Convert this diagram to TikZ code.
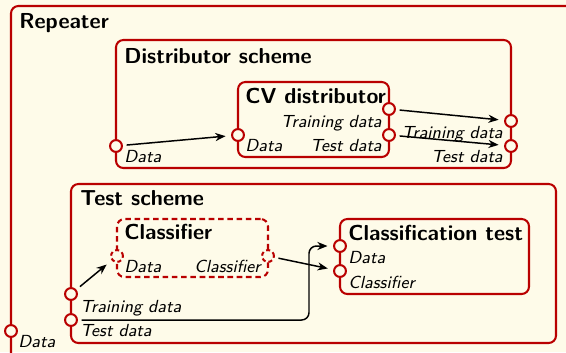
\documentclass[tikz,border=0pt]{standalone}
\usetikzlibrary{arrows.meta,fit}
\definecolor{cream}{RGB}{254,251,233}
\definecolor{schemered}{RGB}{185,0,0}
\tikzset{
  box/.style={draw=schemered, line width=1.1pt, rounded corners=4pt, inner sep=0pt},
  dashbox/.style={box, dash pattern=on 3pt off 2pt},
  port/.style={circle, draw=schemered, fill=cream, line width=1.1pt,
               minimum size=6.4pt, inner sep=0pt},
  dashport/.style={port, dash pattern=on 2.2pt off 1.6pt},
  title/.style={font=\sffamily\bfseries\fontsize{11.7}{14}\selectfont,
                inner sep=0pt, anchor=base west},
  lbl/.style={font=\sffamily\itshape\fontsize{9.45}{11}\selectfont,
              inner sep=0pt, anchor=base west},
  rlbl/.style={lbl, anchor=base east},
  conn/.style={draw=black, line width=0.8pt, -{Stealth[length=5.5pt,width=4.4pt]},
               shorten <=2pt, shorten >=3pt},
}
\begin{document}
\begin{tikzpicture}[x=0.54pt, y=-0.54pt]
  \useasboundingbox (0,0) rectangle (566,352);
  \fill[cream] (0,0) rectangle (566,352);
  \clip (0,0) rectangle (566,352);

  % outer repeater
  \node[box, fit={(11,6) (574,360)}] (rep) {};
  \node[title] (rep-t) at (19,28) {Repeater};
  \node[port] (rep-in) at (11,331) {};
  \node[lbl] (rep-in-l) at (18,347) {Data};

  % distributor scheme
  \node[box, fit={(116,40) (511,168)}] (ds) {};
  \node[title] (ds-t) at (124,63) {Distributor scheme};
  \node[port] (ds-in) at (116,146) {};
  \node[lbl] (ds-in-l) at (124,162) {Data};
  \node[port] (ds-train) at (511,121) {};
  \node[port] (ds-test) at (511,146) {};
  \node[rlbl] (ds-train-l) at (503,138) {Training data};
  \node[rlbl] (ds-test-l) at (503,162.5) {Test data};

  % CV distributor
  \node[box, fit={(238,82) (389,157)}] (cv) {};
  \node[title] (cv-t) at (245,103.5) {CV distributor};
  \node[port] (cv-in) at (238,135) {};
  \node[lbl] (cv-in-l) at (245,151) {Data};
  \node[port] (cv-train) at (389,109) {};
  \node[port] (cv-test) at (389,135) {};
  \node[rlbl] (cv-train-l) at (382,127) {Training data};
  \node[rlbl] (cv-test-l) at (382,151) {Test data};

  \draw[conn] (ds-in) -- (cv-in);
  \draw[conn] (cv-train) -- (ds-train);
  \draw[conn] (cv-test) -- (ds-test);

  % test scheme
  \node[box, fit={(71,184) (556,343)}] (ts) {};
  \node[title] (ts-t) at (80,205) {Test scheme};
  \node[port] (ts-train) at (71,294) {};
  \node[port] (ts-test) at (71,320) {};
  \node[lbl] (ts-train-l) at (80,312) {Training data};
  \node[lbl] (ts-test-l) at (80,336) {Test data};

  % classifier placeholder
  \node[dashbox, fit={(117,219) (268,277)}] (cl) {};
  \node[title] (cl-t) at (124,239.5) {Classifier};
  \node[dashport] (cl-in) at (117,256) {};
  \node[dashport] (cl-out) at (268,256) {};
  \node[lbl] (cl-in-l) at (124,272) {Data};
  \node[rlbl] (cl-out-l) at (261,272) {Classifier};

  % classification test
  \node[box, fit={(340,219) (529,294)}] (ct) {};
  \node[title] (ct-t) at (348,240) {Classification test};
  \node[port] (ct-data) at (340,246) {};
  \node[port] (ct-cl) at (340,271) {};
  \node[lbl] (ct-data-l) at (348,263) {Data};
  \node[lbl] (ct-cl-l) at (348,288) {Classifier};

  \coordinate (bend) at (309,0);
  \draw[conn, shorten <=2.5pt, shorten >=3.5pt] (ts-train) -- (cl-in);
  \draw[conn] (cl-out) -- (ct-cl);
  \draw[conn, rounded corners=4pt] (ts-test) -| (bend |- ct-data) -- (ct-data);
\end{tikzpicture}
\end{document}
